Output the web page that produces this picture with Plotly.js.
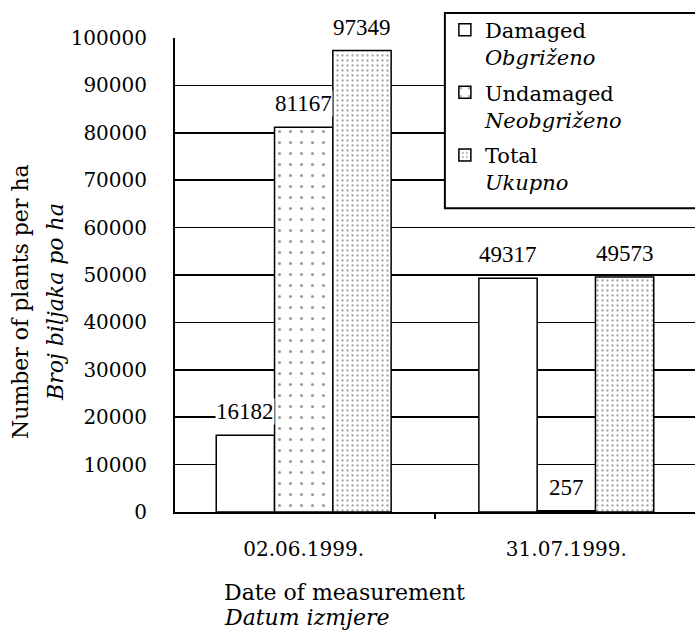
<!DOCTYPE html>
<html>
<head>
<meta charset="utf-8">
<script src="https://cdn.plot.ly/plotly-3.0.1.min.js"></script>
<style>html,body{margin:0;padding:0;background:#fff;}#chart{width:695px;height:642px;}</style>
</head>
<body>
<div id="chart"></div>
<script>
const categories = ["02.06.1999.", "31.07.1999."];
const damaged = [16182, 49317];
const undamaged = [81167, 257];
const total = [97349, 49573];
const seriesNames = ["Damaged<br><i>Obgriženo</i>", "Undamaged<br><i>Neobgriženo</i>", "Total<br><i>Ukupno</i>"];
const yTickVals = [0, 10000, 20000, 30000, 40000, 50000, 60000, 70000, 80000, 90000, 100000];
const yTitleLines = ["Number of plants per ha", "<i>Broj biljaka po ha</i>"];
const xTitleLines = ["Date of measurement", "<i>Datum izmjere</i>"];

const FONT = "DejaVu Serif";
const LABEL_FONT = "'Liberation Serif', 'Times New Roman', serif";
const line = {color: "#000", width: 1.5};

const W = 695, H = 642;
const M = {l: 175, r: 0, t: 38, b: 130};
const XRANGE = [-0.49, 1.49];
const BARGAP = 0.334;

const seriesVals = [damaged, undamaged, total];
const patterns = [
  null,
  {shape: ".", fgcolor: "#9a9a9a", bgcolor: "#fff", size: 11, solidity: 0.06},
  {shape: ".", fgcolor: "#a0a0a0", bgcolor: "#fff", size: 5, solidity: 0.16}
];

const traces = seriesVals.map((vals, i) => {
  const marker = {color: "#fff", line: line};
  if (patterns[i]) marker.pattern = patterns[i];
  return {type: "bar", name: seriesNames[i], x: categories, y: vals, marker: marker,
          legendgroup: "g" + i, hoverinfo: "skip"};
});

// value labels placed via data coordinates, shifted to each bar of the group
const plotW = W - M.l - M.r;
const unitPx = plotW / (XRANGE[1] - XRANGE[0]);
const barPx = unitPx * (1 - BARGAP) / seriesVals.length;
const valueLabels = [];
seriesVals.forEach((vals, i) => {
  vals.forEach((v, j) => {
    valueLabels.push({xref: "x", yref: "y", x: categories[j], y: v,
      xshift: (i - (seriesVals.length - 1) / 2) * barPx, yshift: 10,
      xanchor: "center", yanchor: "bottom", showarrow: false,
      text: String(v), bgcolor: "#fff", borderpad: 0,
      font: {family: LABEL_FONT, size: 23, color: "#000"}});
  });
});

const titleAnnots = [
  {xref: "paper", yref: "paper", x: (20 - M.l) / plotW, y: 0.443, xanchor: "center", yanchor: "middle",
   textangle: -90, showarrow: false, text: yTitleLines[0], font: {family: FONT, size: 22, color: "#000"}},
  {xref: "paper", yref: "paper", x: (55 - M.l) / plotW, y: 0.443, xanchor: "center", yanchor: "middle",
   textangle: -90, showarrow: false, text: yTitleLines[1], font: {family: FONT, size: 22, color: "#000"}},
  {xref: "paper", yref: "paper", x: (222 - M.l) / plotW, y: (H - M.b - 592) / (H - M.t - M.b), xanchor: "left", yanchor: "middle",
   showarrow: false, text: xTitleLines[0], font: {family: FONT, size: 22, color: "#000"}},
  {xref: "paper", yref: "paper", x: (222 - M.l) / plotW, y: (H - M.b - 617) / (H - M.t - M.b), xanchor: "left", yanchor: "middle",
   showarrow: false, text: xTitleLines[1], font: {family: FONT, size: 22, color: "#000"}}
];

const layout = {
  width: W, height: H,
  margin: M,
  paper_bgcolor: "#fff", plot_bgcolor: "#fff",
  font: {family: FONT, size: 20, color: "#000"},
  barmode: "group", bargap: BARGAP, bargroupgap: 0,
  showlegend: true,
  legend: {x: 0.519, xanchor: "left", y: 1.06, yanchor: "top",
           bgcolor: "rgba(0,0,0,0)", borderwidth: 0, valign: "top", tracegroupgap: 5,
           font: {family: FONT, size: 21, color: "#000"}, traceorder: "grouped"},
  xaxis: {type: "category", range: XRANGE, showline: true, linecolor: "#000", linewidth: 2,
          ticks: "outside", tickson: "boundaries", ticklen: 5, tickcolor: "#000", tickwidth: 2,
          ticklabelstandoff: 18, showgrid: false, zeroline: false,
          tickfont: {family: FONT, size: 20, color: "#000"}},
  yaxis: {range: [0, 100000], tickvals: yTickVals, tickformat: "d",
          showline: true, linecolor: "#000", linewidth: 2, ticks: "",
          showgrid: true, gridcolor: "#000", gridwidth: 1.5, zeroline: false,
          ticklabelstandoff: 22, tickfont: {family: FONT, size: 20, color: "#000"}},
  shapes: [
    {type: "rect", xref: "paper", yref: "paper", x0: 0.519, x1: 1.2, y0: 0.641, y1: 1.053,
     fillcolor: "#fff", line: {color: "#000", width: 2}, layer: "above"}
  ],
  annotations: valueLabels.concat(titleAnnots)
};

Plotly.newPlot("chart", traces, layout, {staticPlot: true, displayModeBar: false});
</script>
</body>
</html>
